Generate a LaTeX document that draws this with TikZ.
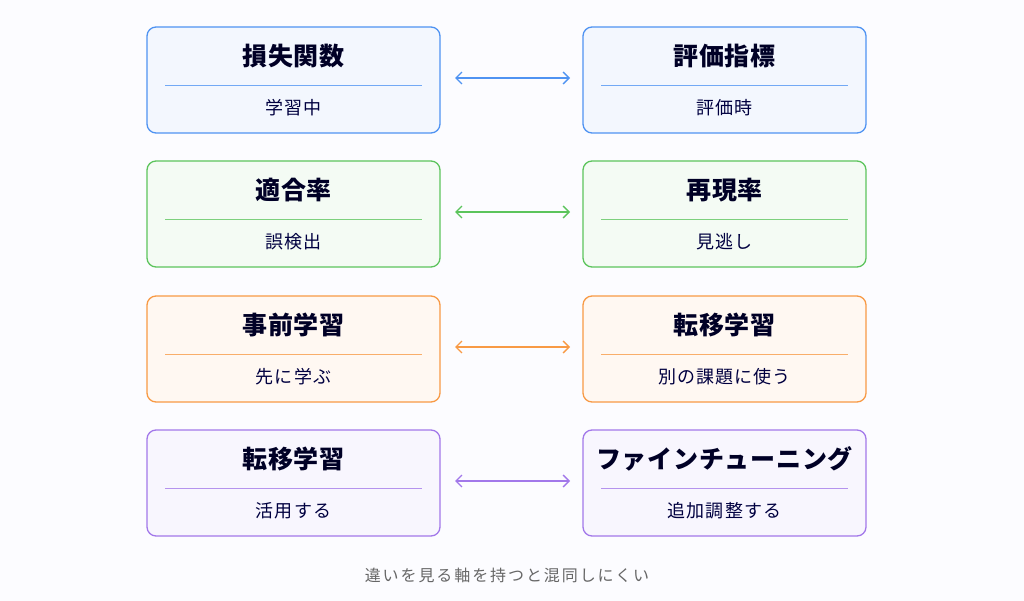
\documentclass[tikz,border=0pt]{standalone}
\usepackage{fontspec}
\usetikzlibrary{arrows.meta}
\setmainfont{Noto Sans CJK JP}
\begin{document}
\begin{tikzpicture}[x=1pt,y=-1pt,
 box/.style={draw=#1, line width=1.3pt, rounded corners=9pt, fill=#1!7},
 ttl/.style={font=\bfseries\fontsize{25}{30}\selectfont\addfontfeature{LetterSpace=3}, text=black!85!blue},
 sub/.style={font=\fontsize{18}{22}\selectfont\addfontfeature{LetterSpace=6}, text=black!75!blue},
 arr/.style={{Straight Barb[length=6pt,width=12pt]}-{Straight Barb[length=6pt,width=12pt]}, line width=1.3pt, draw=#1}]
\definecolor{cb}{HTML}{4F93F2}\definecolor{cg}{HTML}{5CC45C}
\definecolor{co}{HTML}{F89A45}\definecolor{cp}{HTML}{A278EA}
\useasboundingbox (0,0) rectangle (1024,601);
\fill[black!2!blue!1!white] (0,0) rectangle (1024,601);
\foreach \y/\c/\a/\b/\s/\t [count=\i] in {27/cb/損失関数/評価指標/学習中/評価時, 161/cg/適合率/再現率/誤検出/見逃し, 296/co/事前学習/転移学習/先に学ぶ/別の課題に使う, 430/cp/転移学習/ファインチューニング/活用する/追加調整する}{
 \draw[box=\c] (147,\y) rectangle (440,\y+106);
 \draw[box=\c] (583,\y) rectangle (866,\y+106);
 \draw[\c!80, line width=0.9pt] (165,\y+58) -- (422,\y+58);
 \draw[\c!80, line width=0.9pt] (601,\y+58) -- (848,\y+58);
 \node[ttl] (l\i) at (293.5,\y+29) {\a};
 \node[ttl] (r\i) at (724.5,\y+29) {\b};
 \node[sub] (ls\i) at (293.5,\y+81) {\s};
 \node[sub] (rs\i) at (724.5,\y+81) {\t};
 \coordinate (la\i) at (455,\y+51);
 \coordinate (ra\i) at (570,\y+51);
 \draw[arr=\c] (la\i) -- (ra\i);
}
\node[font=\fontsize{16}{20}\selectfont\addfontfeature{LetterSpace=12}, text=black!60, inner sep=0pt] (f) at (507,575) {違いを見る軸を持つと混同しにくい};
\end{tikzpicture}
\end{document}
